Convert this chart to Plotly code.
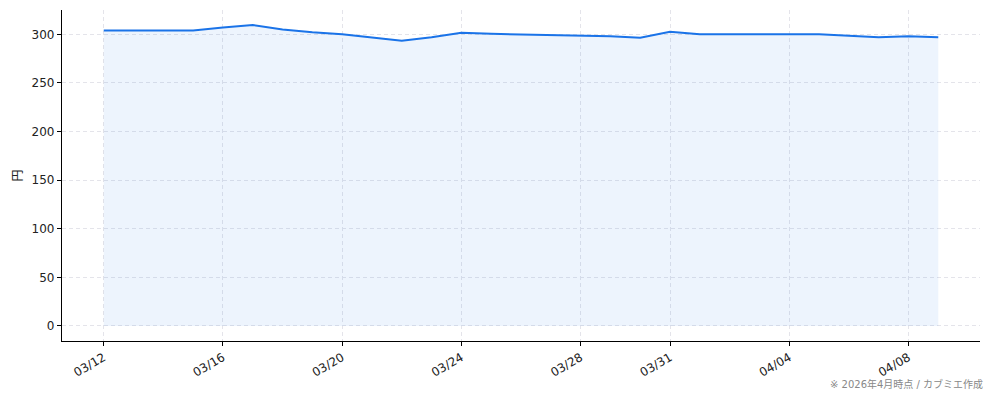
import plotly.graph_objects as go

dates = [
    "2026-03-12", "2026-03-13", "2026-03-14", "2026-03-15", "2026-03-16",
    "2026-03-17", "2026-03-18", "2026-03-19", "2026-03-20", "2026-03-21",
    "2026-03-22", "2026-03-23", "2026-03-24", "2026-03-25", "2026-03-26",
    "2026-03-27", "2026-03-28", "2026-03-29", "2026-03-30", "2026-03-31",
    "2026-04-01", "2026-04-02", "2026-04-03", "2026-04-04", "2026-04-05",
    "2026-04-06", "2026-04-07", "2026-04-08", "2026-04-09",
]
prices = [
    304, 304, 304, 304, 307,
    309.5, 305, 302, 300, 297,
    293.5, 297, 301.5, 300.5, 300,
    299.5, 299, 298, 296.5, 302.5,
    300, 300, 300, 300, 300,
    298.5, 297, 298, 297,
]

tick_vals = ["2026-03-12", "2026-03-16", "2026-03-20", "2026-03-24",
             "2026-03-28", "2026-03-31", "2026-04-04", "2026-04-08"]
tick_text = ["03/12", "03/16", "03/20", "03/24", "03/28", "03/31", "04/04", "04/08"]

FONT = "DejaVu Sans, Noto Sans CJK JP, sans-serif"
JP_FONT = "Noto Sans CJK JP, sans-serif"
LINE = "#1a73e8"
GRID = "#e4e4ea"

fig = go.Figure()
fig.add_trace(go.Scatter(
    x=dates,
    y=prices,
    mode="lines",
    line=dict(color=LINE, width=2),
    fill="tozeroy",
    fillcolor="rgba(26,115,232,0.08)",
    hovertemplate="%{x|%m/%d}: %{y}円<extra></extra>",
))

# page body has an 8px margin, so the figure is sized to fit inside it
fig.update_layout(
    width=986,
    height=393,
    margin=dict(l=54, r=14, t=2, b=60),
    paper_bgcolor="white",
    plot_bgcolor="white",
    showlegend=False,
    font=dict(family=FONT, size=12, color="#222"),
    annotations=[
        dict(
            text="※ 2026年4月時点 / カブミエ作成",
            xref="paper", yref="paper",
            x=1, y=0, xanchor="right", yanchor="middle",
            xshift=5, yshift=-43,
            showarrow=False,
            font=dict(family=FONT, size=10, color="#888"),
        )
    ],
)

fig.update_xaxes(
    type="date",
    range=["2026-03-10 14:24", "2026-04-10 09:36"],
    tickvals=tick_vals,
    ticktext=tick_text,
    tickangle=-30,
    ticks="outside",
    ticklen=4,
    tickcolor="black",
    showline=True,
    linecolor="black",
    linewidth=1.2,
    showgrid=True,
    gridcolor=GRID,
    griddash="4px,3px",
    gridwidth=1,
    zeroline=False,
)
fig.update_yaxes(
    range=[-15.5, 325],
    tickvals=[0, 50, 100, 150, 200, 250, 300],
    ticks="outside",
    ticklen=4,
    tickcolor="black",
    showline=True,
    linecolor="black",
    linewidth=1.2,
    showgrid=True,
    gridcolor=GRID,
    griddash="4px,3px",
    gridwidth=1,
    zeroline=False,
    title=dict(text="円", standoff=10, font=dict(family=JP_FONT, size=12)),
)

fig.write_html("out.html")
